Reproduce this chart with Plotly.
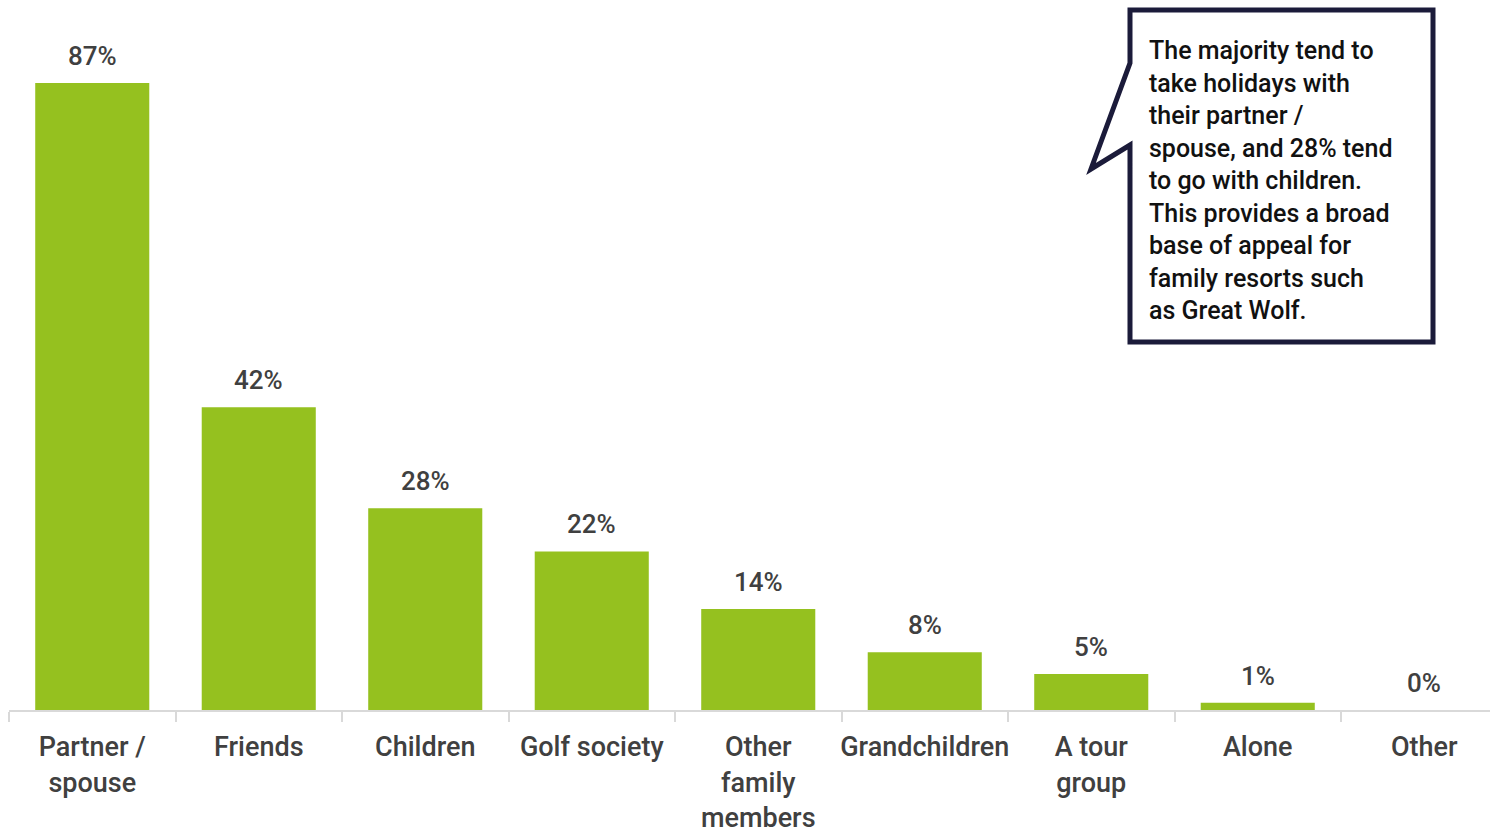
import plotly.graph_objects as go

# Who people tend to take holidays with (% of respondents)
categories = ["Partner /<br>spouse", "Friends", "Children", "Golf society",
              "Other<br>family<br>members", "Grandchildren", "A tour<br>group",
              "Alone", "Other"]
values = [87, 42, 28, 22, 14, 8, 5, 1, 0]
value_labels = [f"{v}%" for v in values]

callout_text = ("The majority tend to<br>take holidays with<br>their partner /<br>"
                "spouse, and 28% tend<br>to go with children.<br>This provides a broad<br>"
                "base of appeal for<br>family resorts such<br>as Great Wolf.")

W, H = 1490, 833
ML, MR, MT, MB = 9, 0, 0, 123
PW, PH = W - ML - MR, H - MT - MB
SLOT = 166.5  # pixel width of one category slot

BAR = "#95c11f"
TXT = "#404040"
FONT = "Roboto, 'DejaVu Sans', sans-serif"


def px(x):
    return (x - ML) / PW


def py(y):
    return (H - MB - y) / PH


fig = go.Figure(go.Bar(
    x=categories, y=values, marker_color=BAR, marker_line_width=0,
    hoverinfo="skip",
))

# value labels above each bar
for c, v, lab in zip(categories, values, value_labels):
    fig.add_annotation(x=c, y=v, text=lab, showarrow=False, yanchor="bottom",
                       yshift=10,
                       font=dict(family=FONT, size=26, color=TXT, weight=500))

# speech-bubble callout
pts = [(1130, 10), (1433, 10), (1433, 342), (1130, 342), (1130, 145),
       (1091, 169), (1130, 63)]
path = "M " + " L ".join(f"{px(x):.5f},{py(y):.5f}" for x, y in pts) + " Z"
fig.add_shape(type="path", path=path, xref="paper", yref="paper",
              line=dict(color="#1b1b3a", width=5), fillcolor="white")
fig.add_annotation(x=px(1147), y=py(34), xref="paper", yref="paper",
                   xanchor="left", yanchor="top", align="left", showarrow=False,
                   text=callout_text,
                   font=dict(family=FONT, size=25, color="#111111", weight=500))

fig.update_layout(
    width=W, height=H,
    margin=dict(l=ML, r=MR, t=MT, b=MB, autoexpand=False),
    paper_bgcolor="white", plot_bgcolor="white",
    bargap=0.315, showlegend=False,
    font=dict(family=FONT, size=26, color=TXT),
)
fig.update_xaxes(range=[-0.5, -0.5 + PW / SLOT],
                 showline=True, linecolor="#d9d9d9", linewidth=2,
                 ticks="outside", tickson="boundaries", ticklen=10,
                 tickcolor="#d9d9d9", tickwidth=2, tickangle=0,
                 ticklabelstandoff=12, automargin=False,
                 tickfont=dict(family=FONT, size=27, color=TXT, weight=500),
                 showgrid=False, fixedrange=True)
fig.update_yaxes(range=[0, 98.5], visible=False, showgrid=False,
                 zeroline=False, fixedrange=True, automargin=False)

fig.write_html("out.html")
